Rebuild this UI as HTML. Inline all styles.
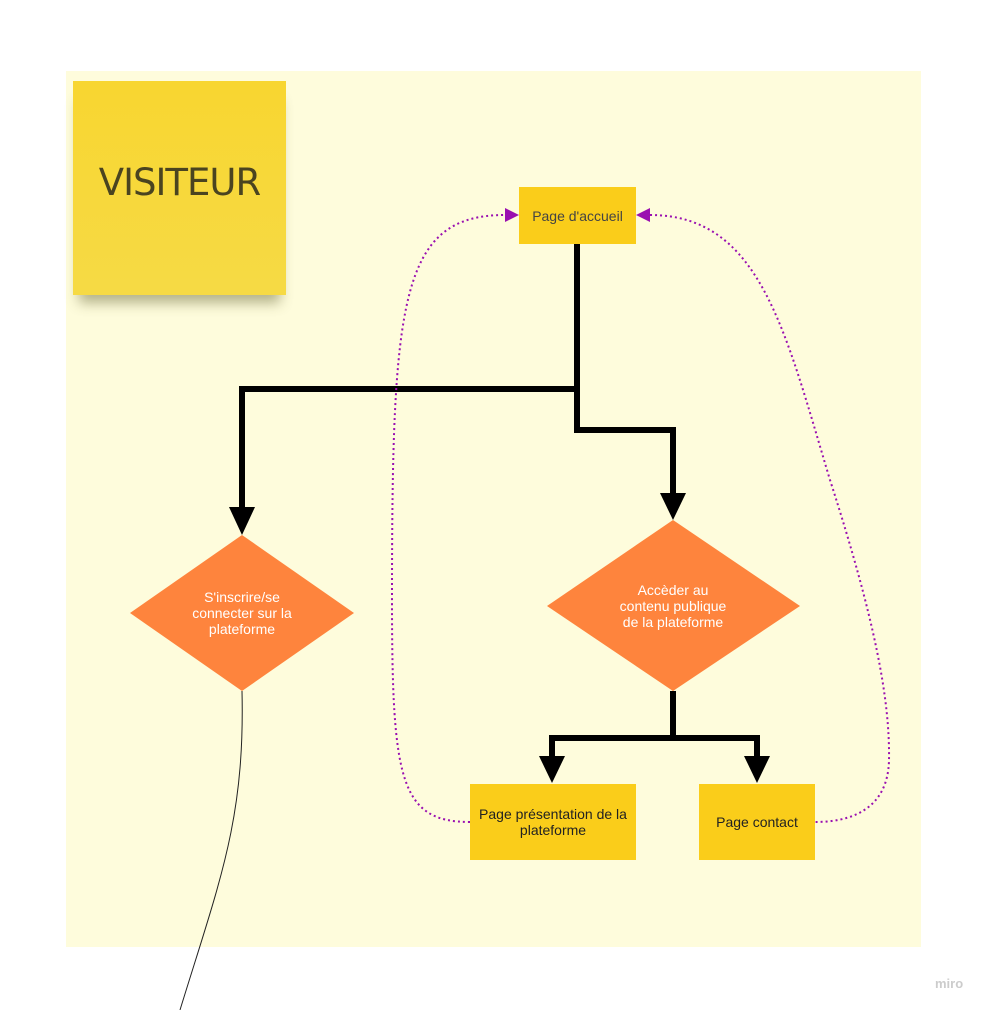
<!DOCTYPE html>
<html><head><meta charset="utf-8"><style>
body{margin:0;width:989px;height:1010px;background:#fff;position:relative;overflow:hidden;font-family:"Liberation Sans",sans-serif}
.panel{position:absolute;left:66px;top:71px;width:855px;height:876px;background:#fefcdc}
.sticky{position:absolute;left:73px;top:81px;width:213px;height:214px;background:linear-gradient(#f8d630,#f6da45);box-shadow:0 14px 12px -6px rgba(90,90,40,.45);font-family:"DejaVu Sans",sans-serif;font-size:37px;color:#4a4420;display:flex;align-items:center;justify-content:center;letter-spacing:-1px;padding-bottom:12px;box-sizing:border-box}
.box{position:absolute;background:#facd1a;display:flex;align-items:center;justify-content:center;text-align:center;font-size:14px;color:#222;line-height:16px}
.dt{position:absolute;color:#fff;font-size:14px;text-align:center;line-height:16px}
</style></head><body>
<div class="panel"></div>
<div class="sticky">VISITEUR</div>
<svg width="989" height="1010" style="position:absolute;left:0;top:0">
<polygon points="242,535 354,613 242,691 130,613" fill="#fe843d"/>
<polygon points="673,520 800,606 673,691 547,606" fill="#fe843d"/>
<g stroke="#000" stroke-width="6" fill="none">
<polyline points="577,244 577,389 242,389 242,510"/>
<polyline points="577,389 577,430 673,430 673,495"/>
<polyline points="673,691 673,738 552,738 552,758"/>
<polyline points="673,738 757,738 757,758"/>
</g>
<g fill="#000">
<polygon points="229,507 255,507 242,535"/>
<polygon points="660,493 686,493 673,520"/>
<polygon points="539,756 565,756 552,783"/>
<polygon points="744,756 770,756 757,783"/>
</g>
<g stroke="#9a10b0" stroke-width="2" stroke-dasharray="2,3" fill="none">
<path d="M470,822 C400,822 392,780 392,600 C392,300 400,215 505,215"/>
<path d="M650,215 C760,215 785,330 830,480 C875,620 890,700 889,760 C888,810 850,822 815,822"/>
</g>
<polygon points="519,215 505,208 505,222" fill="#9a10b0"/>
<polygon points="636,215 650,208 650,222" fill="#9a10b0"/>
<path d="M242,691 C245,820 220,880 180,1010" stroke="#222" stroke-width="1" fill="none"/>
<text x="935" y="988" font-family="Liberation Sans" font-weight="bold" font-size="13" fill="#ccc">miro</text>
</svg>
<div class="box" style="left:519px;top:187px;width:117px;height:57px;color:#444">Page d'accueil</div>
<div class="box" style="left:470px;top:784px;width:166px;height:76px">Page présentation de la plateforme</div>
<div class="box" style="left:699px;top:784px;width:116px;height:76px">Page contact</div>
<div class="dt" style="left:172px;top:589px;width:140px">S'inscrire/se connecter sur la plateforme</div>
<div class="dt" style="left:613px;top:582px;width:120px">Accèder au<br>contenu publique<br>de la plateforme</div>
</body></html>
